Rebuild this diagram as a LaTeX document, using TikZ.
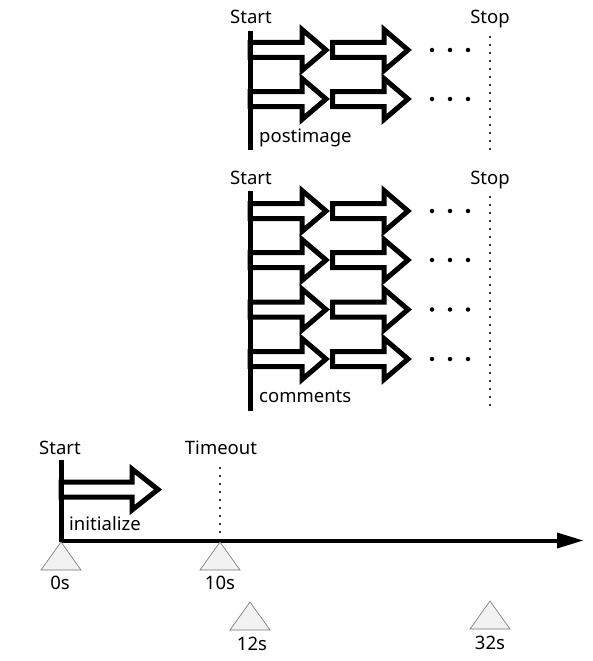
\documentclass[tikz,border=0pt]{standalone}
\usepackage{fontspec}
\setmainfont{Noto Sans}
\begin{document}
\begin{tikzpicture}[x=1pt,y=-1pt,
  lbl/.style={inner sep=1pt,font=\fontsize{18.5}{22}\selectfont},
  bar/.style={line width=5pt},
  fatarrow/.style={line width=5pt,draw=black,fill=white,miter limit=10},
  stopline/.style={line width=1.8pt,dash pattern=on 1.8pt off 6.2pt,black!80},
  dotc/.style={fill=black,circle,inner sep=0pt,minimum size=4.5pt},
  tick/.style={draw=black!55,fill=black!5,line width=0.6pt},
]
\useasboundingbox (0,0) rectangle (592,661);
% arrow macro: left x, head base x, tip x, center y
\newcommand\fatarr[4]{%
  \path[fatarrow] (#1,#4-7.5) -- (#2,#4-7.5) -- (#2,#4-20.5) -- (#3,#4) -- (#2,#4+20.5) -- (#2,#4+7.5) -- (#1,#4+7.5) -- cycle;}
% ---------- top group ----------
\node[lbl,anchor=base] (s1) at (251,24) {Start};
\node[lbl,anchor=base] (t1) at (490,24) {Stop};
\coordinate (b1t) at (250,31);
\coordinate (b1b) at (250,150);
\coordinate (d1t) at (490,36);
\coordinate (d1b) at (490,150);
\draw[stopline] (d1t) -- (d1b);
\foreach \y in {50,99}{
  \fatarr{250}{302}{326}{\y}
  \fatarr{332.5}{384}{408}{\y}
  \foreach \x in {432,450,468} \node[dotc] at (\x,\y) {};
}
\draw[bar] (b1t) -- (b1b);
\node[lbl,anchor=base west,fill=white] (p1) at (258,142) {postimage};
% ---------- middle group ----------
\node[lbl,anchor=base] (s2) at (251,184) {Start};
\node[lbl,anchor=base] (t2) at (490,184) {Stop};
\coordinate (b2t) at (250,191);
\coordinate (b2b) at (250,411);
\coordinate (d2t) at (490,196);
\coordinate (d2b) at (490,410);
\draw[stopline] (d2t) -- (d2b);
\foreach \y in {211,260,309.5,359}{
  \fatarr{250}{302}{326}{\y}
  \fatarr{332.5}{384}{408}{\y}
  \foreach \x in {432,450,468} \node[dotc] at (\x,\y) {};
}
\draw[bar] (b2t) -- (b2b);
\node[lbl,anchor=base west,fill=white] (c2) at (258,402) {comments};
% ---------- bottom timeline ----------
\node[lbl,anchor=base] (s3) at (60,454) {Start};
\node[lbl,anchor=base] (t3) at (221,454) {Timeout};
\coordinate (b3t) at (61,460);
\coordinate (b3b) at (61,542);
\coordinate (d3t) at (220,467);
\coordinate (d3b) at (220,533);
\draw[stopline] (d3t) -- (d3b);
\fatarr{61}{132}{158}{489.5}
\draw[bar] (b3t) -- (b3b);
\node[lbl,anchor=base west] (i3) at (68,530) {initialize};
\coordinate (tl0) at (61,540.5);
\coordinate (tl1) at (560,540.5);
\draw[line width=4pt] (tl0) -- (tl1);
\fill (557,532.5) -- (583,540.5) -- (557,548.5) -- cycle;
% ticks
\foreach \x/\yy/\t in {61/542/0s,220/542/10s,250/602/12s,490/601/32s}{
  \draw[tick] (\x,\yy) -- (\x+20,\yy+28) -- (\x-20,\yy+28) -- cycle;
}
\node[lbl,anchor=base] (l0) at (60,589) {0s};
\node[lbl,anchor=base] (l10) at (220,589) {10s};
\node[lbl,anchor=base] (l12) at (252,650) {12s};
\node[lbl,anchor=base] (l32) at (490,649) {32s};
\end{tikzpicture}
\end{document}
